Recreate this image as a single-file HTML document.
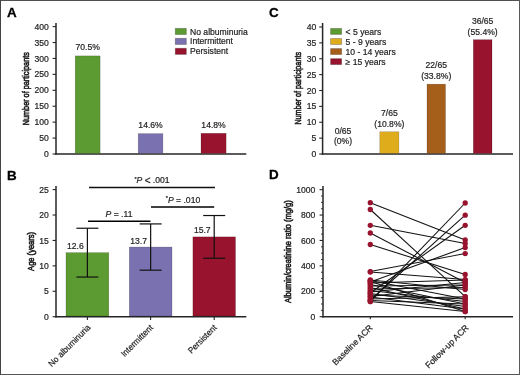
<!DOCTYPE html><html><head><meta charset="utf-8"><style>html,body{margin:0;padding:0;background:#fff;overflow:hidden}svg{display:block;will-change:transform}text{fill:#1e1e1e;stroke:#1e1e1e;stroke-width:0.2px;font-size:8.6px}</style></head><body>
<svg width="520" height="375" viewBox="0 0 520 375" font-family='"Liberation Sans", sans-serif'>
<rect x="0" y="0" width="520" height="375" fill="#fff"/>
<rect x="0" y="0" width="520" height="1" fill="#505050"/>
<rect x="0" y="374" width="520" height="1" fill="#555"/>
<rect x="0" y="0" width="1" height="375" fill="#444"/>
<rect x="519" y="0" width="1" height="375" fill="#5a5a5a"/>
<text x="7.0" y="16.6" style="font-size:13.4px;font-weight:bold;stroke-width:0.3px;fill:#000;stroke:#000">A</text>
<text x="7.0" y="179.8" style="font-size:13.4px;font-weight:bold;stroke-width:0.3px;fill:#000;stroke:#000">B</text>
<text x="269.0" y="16.6" style="font-size:13.4px;font-weight:bold;stroke-width:0.3px;fill:#000;stroke:#000">C</text>
<text x="269.0" y="179.4" style="font-size:13.4px;font-weight:bold;stroke-width:0.3px;fill:#000;stroke:#000">D</text>
<line x1="56" y1="23" x2="56" y2="154.75" stroke="#262626" stroke-width="1.5"/>
<line x1="52.6" y1="154.0" x2="56" y2="154.0" stroke="#262626" stroke-width="1.1"/>
<text x="48.8" y="157.1" text-anchor="end">0</text>
<line x1="52.6" y1="138.075" x2="56" y2="138.075" stroke="#262626" stroke-width="1.1"/>
<text x="48.8" y="141.17499999999998" text-anchor="end">50</text>
<line x1="52.6" y1="122.15" x2="56" y2="122.15" stroke="#262626" stroke-width="1.1"/>
<text x="48.8" y="125.25" text-anchor="end">100</text>
<line x1="52.6" y1="106.225" x2="56" y2="106.225" stroke="#262626" stroke-width="1.1"/>
<text x="48.8" y="109.32499999999999" text-anchor="end">150</text>
<line x1="52.6" y1="90.3" x2="56" y2="90.3" stroke="#262626" stroke-width="1.1"/>
<text x="48.8" y="93.39999999999999" text-anchor="end">200</text>
<line x1="52.6" y1="74.375" x2="56" y2="74.375" stroke="#262626" stroke-width="1.1"/>
<text x="48.8" y="77.475" text-anchor="end">250</text>
<line x1="52.6" y1="58.45" x2="56" y2="58.45" stroke="#262626" stroke-width="1.1"/>
<text x="48.8" y="61.550000000000004" text-anchor="end">300</text>
<line x1="52.6" y1="42.52499999999999" x2="56" y2="42.52499999999999" stroke="#262626" stroke-width="1.1"/>
<text x="48.8" y="45.62499999999999" text-anchor="end">350</text>
<line x1="52.6" y1="26.599999999999994" x2="56" y2="26.599999999999994" stroke="#262626" stroke-width="1.1"/>
<text x="48.8" y="29.699999999999996" text-anchor="end">400</text>
<line x1="55.2" y1="154" x2="246.3" y2="154" stroke="#262626" stroke-width="1.4"/>
<rect x="75.2" y="55.902" width="24.89999999999999" height="97.39800000000001" fill="#5b9b31" stroke="rgba(30,15,15,0.35)" stroke-width="0.5"/>
<text x="87.65" y="50.302" text-anchor="middle">70.5%</text>
<rect x="138.2" y="133.61599999999999" width="24.700000000000017" height="19.684000000000026" fill="#7a72b0" stroke="rgba(30,15,15,0.35)" stroke-width="0.5"/>
<text x="150.55" y="128.016" text-anchor="middle">14.6%</text>
<rect x="201" y="133.2975" width="25.099999999999994" height="20.002499999999998" fill="#98132d" stroke="rgba(30,15,15,0.35)" stroke-width="0.5"/>
<text x="213.55" y="127.69750000000002" text-anchor="middle">14.8%</text>
<rect x="175.3" y="28.4" width="11.0" height="6.100000000000001" fill="#5b9b31" stroke="rgba(30,15,15,0.3)" stroke-width="0.9"/>
<text x="190" y="34.5">No albuminuria</text>
<rect x="175.3" y="38.349999999999994" width="11.0" height="6.100000000000001" fill="#7a72b0" stroke="rgba(30,15,15,0.3)" stroke-width="0.9"/>
<text x="190" y="44.449999999999996">Intermittent</text>
<rect x="175.3" y="48.3" width="11.0" height="6.100000000000001" fill="#98132d" stroke="rgba(30,15,15,0.3)" stroke-width="0.9"/>
<text x="190" y="54.4">Persistent</text>
<text transform="translate(28.6,88.7) rotate(-90) scale(0.7731,1)" text-anchor="middle" style="stroke-width:0.6px;font-size:9.4px">Number of participants</text>
<line x1="56" y1="186" x2="56" y2="317.45" stroke="#262626" stroke-width="1.5"/>
<line x1="52.6" y1="316.7" x2="56" y2="316.7" stroke="#262626" stroke-width="1.1"/>
<text x="48.8" y="319.8" text-anchor="end">0</text>
<line x1="52.6" y1="291.28" x2="56" y2="291.28" stroke="#262626" stroke-width="1.1"/>
<text x="48.8" y="294.38" text-anchor="end">5</text>
<line x1="52.6" y1="265.86" x2="56" y2="265.86" stroke="#262626" stroke-width="1.1"/>
<text x="48.8" y="268.96000000000004" text-anchor="end">10</text>
<line x1="52.6" y1="240.44" x2="56" y2="240.44" stroke="#262626" stroke-width="1.1"/>
<text x="48.8" y="243.54" text-anchor="end">15</text>
<line x1="52.6" y1="215.01999999999998" x2="56" y2="215.01999999999998" stroke="#262626" stroke-width="1.1"/>
<text x="48.8" y="218.11999999999998" text-anchor="end">20</text>
<line x1="52.6" y1="189.6" x2="56" y2="189.6" stroke="#262626" stroke-width="1.1"/>
<text x="48.8" y="192.7" text-anchor="end">25</text>
<line x1="55.2" y1="316.7" x2="246.3" y2="316.7" stroke="#262626" stroke-width="1.4"/>
<rect x="66" y="252.64159999999998" width="42.8" height="63.35840000000002" fill="#5b9b31" stroke="rgba(30,15,15,0.35)" stroke-width="0.5"/>
<line x1="87.4" y1="228.2384" x2="87.4" y2="277.0448" stroke="#111" stroke-width="1.2"/>
<line x1="76.4" y1="228.2384" x2="98.4" y2="228.2384" stroke="#111" stroke-width="1.2"/>
<line x1="76.4" y1="277.0448" x2="98.4" y2="277.0448" stroke="#111" stroke-width="1.2"/>
<text x="67" y="249.14159999999998">12.6</text>
<rect x="129.3" y="247.04919999999998" width="42.69999999999999" height="68.95080000000002" fill="#7a72b0" stroke="rgba(30,15,15,0.35)" stroke-width="0.5"/>
<line x1="150.65" y1="223.917" x2="150.65" y2="270.1814" stroke="#111" stroke-width="1.2"/>
<line x1="139.65" y1="223.917" x2="161.65" y2="223.917" stroke="#111" stroke-width="1.2"/>
<line x1="139.65" y1="270.1814" x2="161.65" y2="270.1814" stroke="#111" stroke-width="1.2"/>
<text x="130.3" y="243.54919999999998">13.7</text>
<rect x="192.9" y="236.88119999999998" width="42.599999999999994" height="79.11880000000002" fill="#98132d" stroke="rgba(30,15,15,0.35)" stroke-width="0.5"/>
<line x1="214.2" y1="215.5284" x2="214.2" y2="258.234" stroke="#111" stroke-width="1.2"/>
<line x1="203.2" y1="215.5284" x2="225.2" y2="215.5284" stroke="#111" stroke-width="1.2"/>
<line x1="203.2" y1="258.234" x2="225.2" y2="258.234" stroke="#111" stroke-width="1.2"/>
<text x="193.9" y="233.38119999999998">15.7</text>
<line x1="89" y1="187.5" x2="215" y2="187.5" stroke="#111" stroke-width="1.3"/>
<line x1="88" y1="221.2" x2="150.5" y2="221.2" stroke="#000" stroke-width="1.5"/>
<line x1="151" y1="207" x2="214.2" y2="207" stroke="#000" stroke-width="1.5"/>
<text x="152" y="183.3" text-anchor="middle"><tspan style="font-size:5.5px" dy="-2.5">*</tspan><tspan font-style="italic" dy="2.5">P</tspan> <tspan style="font-size:10px" dy="0.3">&lt;</tspan><tspan dy="-0.3"> .001</tspan></text>
<text x="119" y="216.6" text-anchor="middle"><tspan font-style="italic">P</tspan> = .11</text>
<text x="183" y="202.6" text-anchor="middle"><tspan style="font-size:5.5px" dy="-2.5">*</tspan><tspan font-style="italic" dy="2.5">P</tspan> = .010</text>
<text transform="translate(91,328) rotate(-45) scale(0.96,1)" text-anchor="end">No albuminuria</text>
<text transform="translate(153.6,328.2) rotate(-45) scale(0.96,1)" text-anchor="end">Intermittent</text>
<text transform="translate(217.3,328.2) rotate(-45) scale(0.96,1)" text-anchor="end">Persistent</text>
<line x1="87.4" y1="316.7" x2="87.4" y2="320.0" stroke="#262626" stroke-width="1.1"/>
<line x1="150.6" y1="316.7" x2="150.6" y2="320.0" stroke="#262626" stroke-width="1.1"/>
<line x1="214.2" y1="316.7" x2="214.2" y2="320.0" stroke="#262626" stroke-width="1.1"/>
<text transform="translate(33.8,251.4) rotate(-90) scale(0.8051,1)" text-anchor="middle" style="stroke-width:0.6px;font-size:9.4px">Age (years)</text>
<line x1="322.6" y1="23" x2="322.6" y2="154.75" stroke="#262626" stroke-width="1.5"/>
<line x1="319.20000000000005" y1="154.0" x2="322.6" y2="154.0" stroke="#262626" stroke-width="1.1"/>
<text x="316.3" y="157.1" text-anchor="end">0</text>
<line x1="319.20000000000005" y1="138.125" x2="322.6" y2="138.125" stroke="#262626" stroke-width="1.1"/>
<text x="316.3" y="141.225" text-anchor="end">5</text>
<line x1="319.20000000000005" y1="122.25" x2="322.6" y2="122.25" stroke="#262626" stroke-width="1.1"/>
<text x="316.3" y="125.35" text-anchor="end">10</text>
<line x1="319.20000000000005" y1="106.375" x2="322.6" y2="106.375" stroke="#262626" stroke-width="1.1"/>
<text x="316.3" y="109.475" text-anchor="end">15</text>
<line x1="319.20000000000005" y1="90.5" x2="322.6" y2="90.5" stroke="#262626" stroke-width="1.1"/>
<text x="316.3" y="93.6" text-anchor="end">20</text>
<line x1="319.20000000000005" y1="74.625" x2="322.6" y2="74.625" stroke="#262626" stroke-width="1.1"/>
<text x="316.3" y="77.725" text-anchor="end">25</text>
<line x1="319.20000000000005" y1="58.75" x2="322.6" y2="58.75" stroke="#262626" stroke-width="1.1"/>
<text x="316.3" y="61.85" text-anchor="end">30</text>
<line x1="319.20000000000005" y1="42.875" x2="322.6" y2="42.875" stroke="#262626" stroke-width="1.1"/>
<text x="316.3" y="45.975" text-anchor="end">35</text>
<line x1="319.20000000000005" y1="27.0" x2="322.6" y2="27.0" stroke="#262626" stroke-width="1.1"/>
<text x="316.3" y="30.1" text-anchor="end">40</text>
<line x1="321.8" y1="154" x2="513" y2="154" stroke="#262626" stroke-width="1.4"/>
<text x="343.05" y="133.7" text-anchor="middle">0/65</text>
<text x="343.05" y="144.3" text-anchor="middle">(0%)</text>
<rect x="379.8" y="131.775" width="19.099999999999966" height="21.525000000000006" fill="#dfad1c" stroke="rgba(30,15,15,0.35)" stroke-width="0.5"/>
<text x="389.35" y="115.97500000000001" text-anchor="middle">7/65</text>
<text x="389.35" y="126.575" text-anchor="middle">(10.8%)</text>
<rect x="427" y="84.15" width="18.5" height="69.15" fill="#a65e1b" stroke="rgba(30,15,15,0.35)" stroke-width="0.5"/>
<text x="436.25" y="68.35000000000001" text-anchor="middle">22/65</text>
<text x="436.25" y="78.95" text-anchor="middle">(33.8%)</text>
<rect x="473.3" y="39.7" width="18.69999999999999" height="113.60000000000001" fill="#98132d" stroke="rgba(30,15,15,0.35)" stroke-width="0.5"/>
<text x="482.65" y="23.900000000000002" text-anchor="middle">36/65</text>
<text x="482.65" y="34.5" text-anchor="middle">(55.4%)</text>
<rect x="330.6" y="28.5" width="11.0" height="5.899999999999999" fill="#5b9b31" stroke="rgba(30,15,15,0.3)" stroke-width="0.9"/>
<text x="345.6" y="34.9">&lt; 5 years</text>
<rect x="330.6" y="38.55" width="11.0" height="5.899999999999999" fill="#dfad1c" stroke="rgba(30,15,15,0.3)" stroke-width="0.9"/>
<text x="345.6" y="44.949999999999996">5 - 9 years</text>
<rect x="330.6" y="48.6" width="11.0" height="5.899999999999999" fill="#a65e1b" stroke="rgba(30,15,15,0.3)" stroke-width="0.9"/>
<text x="345.6" y="55.0">10 - 14 years</text>
<rect x="330.6" y="58.650000000000006" width="11.0" height="5.900000000000006" fill="#98132d" stroke="rgba(30,15,15,0.3)" stroke-width="0.9"/>
<text x="345.6" y="65.05000000000001">≥ 15 years</text>
<text transform="translate(300.8,88.3) rotate(-90) scale(0.7685,1)" text-anchor="middle" style="stroke-width:0.6px;font-size:9.4px">Number of participants</text>
<line x1="323" y1="186" x2="323" y2="317.45" stroke="#262626" stroke-width="1.5"/>
<line x1="319.6" y1="316.7" x2="323" y2="316.7" stroke="#262626" stroke-width="1.1"/>
<text x="315.4" y="319.8" text-anchor="end">0</text>
<line x1="319.6" y1="291.28999999999996" x2="323" y2="291.28999999999996" stroke="#262626" stroke-width="1.1"/>
<text x="315.4" y="294.39" text-anchor="end">200</text>
<line x1="319.6" y1="265.88" x2="323" y2="265.88" stroke="#262626" stroke-width="1.1"/>
<text x="315.4" y="268.98" text-anchor="end">400</text>
<line x1="319.6" y1="240.46999999999997" x2="323" y2="240.46999999999997" stroke="#262626" stroke-width="1.1"/>
<text x="315.4" y="243.56999999999996" text-anchor="end">600</text>
<line x1="319.6" y1="215.06" x2="323" y2="215.06" stroke="#262626" stroke-width="1.1"/>
<text x="315.4" y="218.16" text-anchor="end">800</text>
<line x1="319.6" y1="189.64999999999998" x2="323" y2="189.64999999999998" stroke="#262626" stroke-width="1.1"/>
<text x="315.4" y="192.74999999999997" text-anchor="end">1000</text>
<line x1="321" y1="310.34749999999997" x2="323" y2="310.34749999999997" stroke="#262626" stroke-width="0.9"/>
<line x1="321" y1="303.995" x2="323" y2="303.995" stroke="#262626" stroke-width="0.9"/>
<line x1="321" y1="297.6425" x2="323" y2="297.6425" stroke="#262626" stroke-width="0.9"/>
<line x1="321" y1="284.9375" x2="323" y2="284.9375" stroke="#262626" stroke-width="0.9"/>
<line x1="321" y1="278.585" x2="323" y2="278.585" stroke="#262626" stroke-width="0.9"/>
<line x1="321" y1="272.23249999999996" x2="323" y2="272.23249999999996" stroke="#262626" stroke-width="0.9"/>
<line x1="321" y1="259.5275" x2="323" y2="259.5275" stroke="#262626" stroke-width="0.9"/>
<line x1="321" y1="253.17499999999998" x2="323" y2="253.17499999999998" stroke="#262626" stroke-width="0.9"/>
<line x1="321" y1="246.8225" x2="323" y2="246.8225" stroke="#262626" stroke-width="0.9"/>
<line x1="321" y1="234.1175" x2="323" y2="234.1175" stroke="#262626" stroke-width="0.9"/>
<line x1="321" y1="227.765" x2="323" y2="227.765" stroke="#262626" stroke-width="0.9"/>
<line x1="321" y1="221.4125" x2="323" y2="221.4125" stroke="#262626" stroke-width="0.9"/>
<line x1="321" y1="208.70749999999998" x2="323" y2="208.70749999999998" stroke="#262626" stroke-width="0.9"/>
<line x1="321" y1="202.355" x2="323" y2="202.355" stroke="#262626" stroke-width="0.9"/>
<line x1="321" y1="196.0025" x2="323" y2="196.0025" stroke="#262626" stroke-width="0.9"/>
<line x1="322.2" y1="316.7" x2="513" y2="316.7" stroke="#262626" stroke-width="1.4"/>
<line x1="370.3" y1="316.7" x2="370.3" y2="319.3" stroke="#262626" stroke-width="1.1"/>
<line x1="465.2" y1="316.7" x2="465.2" y2="319.3" stroke="#262626" stroke-width="1.1"/>
<text transform="translate(373.2,328.3) rotate(-45)" text-anchor="end">Baseline ACR</text>
<text transform="translate(469.2,328.3) rotate(-45)" text-anchor="end">Follow-up ACR</text>
<text transform="translate(291.2,251.7) rotate(-90) scale(0.8051,1)" text-anchor="middle" style="stroke-width:0.6px;font-size:9.4px">Albumin/creatinine ratio (mg/g)</text>
<line x1="370.3" y1="202.7" x2="465.2" y2="240" stroke="#111" stroke-width="1.05"/>
<line x1="370.3" y1="209.5" x2="465.2" y2="296.7" stroke="#111" stroke-width="1.05"/>
<line x1="370.3" y1="225.3" x2="465.2" y2="243.5" stroke="#111" stroke-width="1.05"/>
<line x1="370.3" y1="233" x2="465.2" y2="282.5" stroke="#111" stroke-width="1.05"/>
<line x1="370.3" y1="244.5" x2="465.2" y2="274.5" stroke="#111" stroke-width="1.05"/>
<line x1="370.3" y1="301.6" x2="465.2" y2="203" stroke="#111" stroke-width="1.05"/>
<line x1="370.3" y1="300" x2="465.2" y2="215.2" stroke="#111" stroke-width="1.05"/>
<line x1="370.3" y1="293" x2="465.2" y2="225.3" stroke="#111" stroke-width="1.05"/>
<line x1="370.3" y1="282" x2="465.2" y2="247.5" stroke="#111" stroke-width="1.05"/>
<line x1="370.3" y1="271.6" x2="465.2" y2="253.6" stroke="#111" stroke-width="1.05"/>
<line x1="370.3" y1="280" x2="465.2" y2="289.6" stroke="#111" stroke-width="1.05"/>
<line x1="370.3" y1="281.5" x2="465.2" y2="311.6" stroke="#111" stroke-width="1.05"/>
<line x1="370.3" y1="283" x2="465.2" y2="280" stroke="#111" stroke-width="1.05"/>
<line x1="370.3" y1="284.5" x2="465.2" y2="304" stroke="#111" stroke-width="1.05"/>
<line x1="370.3" y1="286" x2="465.2" y2="285" stroke="#111" stroke-width="1.05"/>
<line x1="370.3" y1="287.5" x2="465.2" y2="309" stroke="#111" stroke-width="1.05"/>
<line x1="370.3" y1="289" x2="465.2" y2="287.5" stroke="#111" stroke-width="1.05"/>
<line x1="370.3" y1="290.5" x2="465.2" y2="301.5" stroke="#111" stroke-width="1.05"/>
<line x1="370.3" y1="292" x2="465.2" y2="282.5" stroke="#111" stroke-width="1.05"/>
<line x1="370.3" y1="293.5" x2="465.2" y2="306.5" stroke="#111" stroke-width="1.05"/>
<line x1="370.3" y1="295" x2="465.2" y2="299" stroke="#111" stroke-width="1.05"/>
<line x1="370.3" y1="296.5" x2="465.2" y2="285" stroke="#111" stroke-width="1.05"/>
<line x1="370.3" y1="297" x2="465.2" y2="309" stroke="#111" stroke-width="1.05"/>
<line x1="370.3" y1="299" x2="465.2" y2="296.7" stroke="#111" stroke-width="1.05"/>
<line x1="370.3" y1="301.6" x2="465.2" y2="311.6" stroke="#111" stroke-width="1.05"/>
<line x1="370.3" y1="300.5" x2="465.2" y2="304" stroke="#111" stroke-width="1.05"/>
<line x1="370.3" y1="280.5" x2="465.2" y2="299" stroke="#111" stroke-width="1.05"/>
<line x1="370.3" y1="272" x2="465.2" y2="279.6" stroke="#111" stroke-width="1.05"/>
<circle cx="370.3" cy="202.7" r="2.65" fill="#98132d"/>
<circle cx="465.2" cy="240" r="2.65" fill="#98132d"/>
<circle cx="370.3" cy="209.5" r="2.65" fill="#98132d"/>
<circle cx="465.2" cy="296.7" r="2.65" fill="#98132d"/>
<circle cx="370.3" cy="225.3" r="2.65" fill="#98132d"/>
<circle cx="465.2" cy="243.5" r="2.65" fill="#98132d"/>
<circle cx="370.3" cy="233" r="2.65" fill="#98132d"/>
<circle cx="465.2" cy="282.5" r="2.65" fill="#98132d"/>
<circle cx="370.3" cy="244.5" r="2.65" fill="#98132d"/>
<circle cx="465.2" cy="274.5" r="2.65" fill="#98132d"/>
<circle cx="370.3" cy="301.6" r="2.65" fill="#98132d"/>
<circle cx="465.2" cy="203" r="2.65" fill="#98132d"/>
<circle cx="370.3" cy="300" r="2.65" fill="#98132d"/>
<circle cx="465.2" cy="215.2" r="2.65" fill="#98132d"/>
<circle cx="370.3" cy="293" r="2.65" fill="#98132d"/>
<circle cx="465.2" cy="225.3" r="2.65" fill="#98132d"/>
<circle cx="370.3" cy="282" r="2.65" fill="#98132d"/>
<circle cx="465.2" cy="247.5" r="2.65" fill="#98132d"/>
<circle cx="370.3" cy="271.6" r="2.65" fill="#98132d"/>
<circle cx="465.2" cy="253.6" r="2.65" fill="#98132d"/>
<circle cx="370.3" cy="280" r="2.65" fill="#98132d"/>
<circle cx="465.2" cy="289.6" r="2.65" fill="#98132d"/>
<circle cx="370.3" cy="281.5" r="2.65" fill="#98132d"/>
<circle cx="465.2" cy="311.6" r="2.65" fill="#98132d"/>
<circle cx="370.3" cy="283" r="2.65" fill="#98132d"/>
<circle cx="465.2" cy="280" r="2.65" fill="#98132d"/>
<circle cx="370.3" cy="284.5" r="2.65" fill="#98132d"/>
<circle cx="465.2" cy="304" r="2.65" fill="#98132d"/>
<circle cx="370.3" cy="286" r="2.65" fill="#98132d"/>
<circle cx="465.2" cy="285" r="2.65" fill="#98132d"/>
<circle cx="370.3" cy="287.5" r="2.65" fill="#98132d"/>
<circle cx="465.2" cy="309" r="2.65" fill="#98132d"/>
<circle cx="370.3" cy="289" r="2.65" fill="#98132d"/>
<circle cx="465.2" cy="287.5" r="2.65" fill="#98132d"/>
<circle cx="370.3" cy="290.5" r="2.65" fill="#98132d"/>
<circle cx="465.2" cy="301.5" r="2.65" fill="#98132d"/>
<circle cx="370.3" cy="292" r="2.65" fill="#98132d"/>
<circle cx="465.2" cy="282.5" r="2.65" fill="#98132d"/>
<circle cx="370.3" cy="293.5" r="2.65" fill="#98132d"/>
<circle cx="465.2" cy="306.5" r="2.65" fill="#98132d"/>
<circle cx="370.3" cy="295" r="2.65" fill="#98132d"/>
<circle cx="465.2" cy="299" r="2.65" fill="#98132d"/>
<circle cx="370.3" cy="296.5" r="2.65" fill="#98132d"/>
<circle cx="465.2" cy="285" r="2.65" fill="#98132d"/>
<circle cx="370.3" cy="297" r="2.65" fill="#98132d"/>
<circle cx="465.2" cy="309" r="2.65" fill="#98132d"/>
<circle cx="370.3" cy="299" r="2.65" fill="#98132d"/>
<circle cx="465.2" cy="296.7" r="2.65" fill="#98132d"/>
<circle cx="370.3" cy="301.6" r="2.65" fill="#98132d"/>
<circle cx="465.2" cy="311.6" r="2.65" fill="#98132d"/>
<circle cx="370.3" cy="300.5" r="2.65" fill="#98132d"/>
<circle cx="465.2" cy="304" r="2.65" fill="#98132d"/>
<circle cx="370.3" cy="280.5" r="2.65" fill="#98132d"/>
<circle cx="465.2" cy="299" r="2.65" fill="#98132d"/>
<circle cx="370.3" cy="272" r="2.65" fill="#98132d"/>
<circle cx="465.2" cy="279.6" r="2.65" fill="#98132d"/>
</svg></body></html>
